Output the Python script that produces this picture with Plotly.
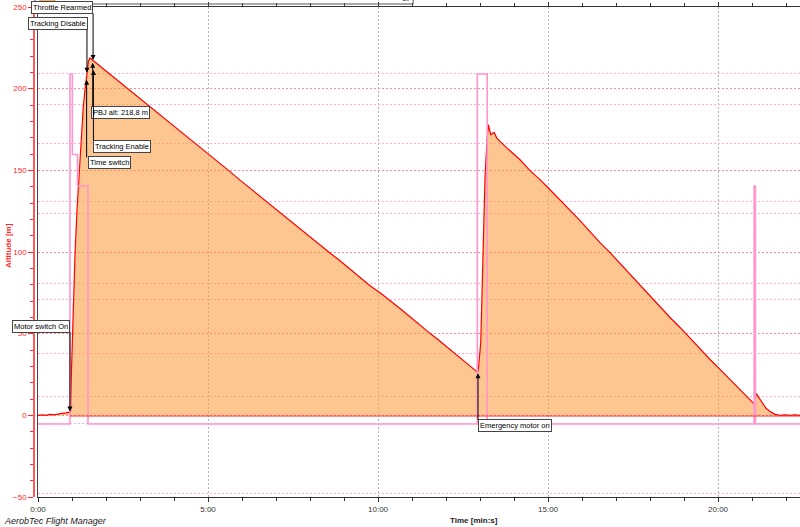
import plotly.graph_objects as go

# altitude log: time [min], altitude [m]
alt_time = [0.000, 0.118, 0.235, 0.353, 0.471, 0.588, 0.706, 0.824, 0.912, 0.956,
            0.985, 1.015, 1.044, 1.088, 1.147, 1.206, 1.256, 1.332, 1.382, 1.450, 1.485, 1.529,
            1.618, 1.706, 1.824, 2.118, 2.412, 2.706, 3.000, 3.294, 3.588, 3.882, 4.176, 4.471,
            4.765, 5.059, 5.353, 5.647, 5.941, 6.235, 6.529, 6.824, 7.118, 7.412, 7.706, 8.000,
            8.294, 8.588, 8.882, 9.176, 9.471, 9.765, 10.059, 10.353, 10.647, 10.941, 11.235,
            11.529, 11.824, 12.118, 12.412, 12.706, 12.932,
            12.956, 13.021, 13.097, 13.147, 13.206, 13.244, 13.315, 13.362, 13.412, 13.491, 13.588,
            13.882, 14.176, 14.471, 14.765, 15.059, 15.353, 15.647, 15.941, 16.235, 16.529,
            16.824, 17.118, 17.412, 17.706, 18.000, 18.294, 18.588, 18.882, 19.176, 19.471,
            19.765, 20.059, 20.353, 20.647, 20.882, 21.029, 21.074, 21.118, 21.176, 21.294,
            21.412, 21.529, 21.676, 21.824, 21.971, 22.118, 22.265, 22.412]
alt_m = [0.0, 0.3, 0.0, 0.6, 0.3, 0.9, 1.2, 1.5, 1.8, 2.1,
         28.0, 52.6, 70.9, 98.4, 125.9, 147.3, 168.7, 188.9, 199.3, 213.3, 217.0, 218.8,
         217.3, 215.6, 213.4, 208.6, 203.8, 198.8, 194.0, 189.0, 184.2, 179.0, 174.0, 169.0,
         164.2, 159.2, 154.0, 149.2, 144.0, 139.0, 134.2, 129.0, 124.2, 119.0, 114.0, 109.2,
         104.0, 99.4, 94.6, 89.6, 84.2, 79.4, 75.0, 70.4, 65.4, 60.4, 55.2,
         50.2, 45.4, 40.4, 35.4, 30.6, 26.3,
         29.3, 44.6, 105.7, 146.1, 168.7, 177.9, 171.8, 172.4, 173.2, 169.9, 167.7,
         162.0, 156.5, 149.8, 144.3, 138.1, 132.0, 125.9, 119.2, 112.5, 105.7,
         99.6, 92.9, 86.2, 80.1, 73.3, 66.6, 59.9, 53.8, 47.1, 40.3,
         34.2, 28.1, 22.0, 15.9, 11.0, 7.9, 6.7, 13.4, 11.6, 7.9,
         4.3, 2.4, 0.6, 0.0, 0.3, 0.0, 0.3, 0.0]

# throttle input [%]
throttle_time = [0, 0.94, 1.01, 1.16, 1.47, 12.92, 13.21, 21.06, 21.10, 22.41]
throttle_pct = [0, 100, 77, 68, 0, 100, 0, 68, 0, 0]

# power sensor channel (flat)
pws_time = [0.94, 22.41]
pws_current = [0, 0]

x_tickvals = [0, 5, 10, 15, 20]
x_ticktext = ["0:00", "5:00", "10:00", "15:00", "20:00"]

legend_names = ["Altitude", "Throttle In", "PWS Current", "PWS Power", "PWS Energy"]

# flight events: label, time [min], altitude at arrow tip [m]
event_labels = ["Throttle Rearmed", "Tracking Disable", "PBJ alt: 218,8 m", "Tracking Enable",
                "Time switch", "Motor switch On", "Emergency motor on"]
event_time = [1.62, 1.44, 1.61, 1.63, 1.43, 0.94, 12.94]
event_alt = [217.5, 209.7, 215.8, 211.5, 205.4, 2.4, 25.7]

RED = "rgb(255,40,40)"
PINK = "rgb(255,150,205)"
FONT = "Liberation Sans"

fig = go.Figure()

fig.add_trace(go.Scatter(
    x=alt_time, y=alt_m, mode="lines", name="Altitude",
    line=dict(color="rgb(255,0,0)", width=1.2),
    fill="tozeroy", fillcolor="rgba(252,158,68,0.6)"
))
fig.add_trace(go.Scatter(
    x=throttle_time, y=throttle_pct, mode="lines", name="Throttle In",
    line=dict(color=PINK, width=1.6, shape="hv"), yaxis="y2"
))
fig.add_trace(go.Scatter(
    x=pws_time, y=pws_current, mode="lines", name="PWS Current",
    line=dict(color=RED, width=1.2), yaxis="y3"
))

# box placement for each event: (box time, box altitude, anchor, arrow tail altitude)
box_pos = [
    (1.62, 249.8, "right", 247.0),
    (1.47, 240.0, "right", 237.0),
    (1.55, 185.5, "left", 188.0),
    (1.62, 164.4, "left", 167.0),
    (1.46, 154.6, "left", 157.0),
    (0.94, 54.4, "right", 52.0),
    (12.94, -6.4, "left", -3.7),
]

annotations = []
for label, t, a, (bt, ba, anc, tail) in zip(event_labels, event_time, event_alt, box_pos):
    annotations.append(dict(
        x=t, y=a, ax=t, ay=tail, xref="x", yref="y", axref="x", ayref="y",
        text="", showarrow=True, arrowhead=2, arrowsize=1, arrowwidth=1,
        arrowcolor="black"
    ))
    annotations.append(dict(
        x=bt, y=ba, xref="x", yref="y", text=label, showarrow=False,
        xanchor=anc, yanchor="middle", bgcolor="white", bordercolor="#444",
        borderwidth=1, borderpad=1, font=dict(family=FONT, size=7.5, color="black")
    ))

# axis titles and footer
annotations.append(dict(
    x=-0.034, y=0.514, xref="paper", yref="paper", xanchor="center", yanchor="middle",
    text="<b>Altitude [m]</b>", textangle=-90, showarrow=False,
    font=dict(family=FONT, size=8, color=RED)
))
annotations.append(dict(
    x=0.574, y=-0.047, xref="paper", yref="paper", xanchor="center", yanchor="middle",
    text="<b>Time [min:s]</b>", showarrow=False,
    font=dict(family=FONT, size=8, color="#222")
))
annotations.append(dict(
    x=-0.0418, y=-0.049, xref="paper", yref="paper", xanchor="left", yanchor="middle",
    text="<i>AerobTec Flight Manager</i>", showarrow=False,
    font=dict(family=FONT, size=9, color="#222")
))

# legend strip, mostly cut off above the page
legend_x = [0.0339, 0.1371, 0.2337, 0.3303, 0.4295]
for name, lx in zip(legend_names, legend_x):
    annotations.append(dict(
        x=lx, y=1, xref="paper", yref="paper", xanchor="left", yanchor="bottom",
        yshift=4, text=name, showarrow=False,
        font=dict(family=FONT, size=8, color="#333")
    ))

shapes = [
    dict(type="rect", xref="paper", yref="paper", x0=0.0013, x1=0.495, y0=1.0061, y1=1.06,
         line=dict(color="#555", width=1), fillcolor="rgba(255,255,255,0)"),
    dict(type="rect", xref="paper", yref="paper", x0=0.0078, x1=0.0274, y0=1.0122, y1=1.06,
         line=dict(color="rgb(240,150,70)", width=1), fillcolor="rgb(253,197,143)"),
]

fig.update_layout(
    width=800, height=527,
    margin=dict(l=34, r=0, t=7, b=30),
    paper_bgcolor="white", plot_bgcolor="white",
    showlegend=False,
    font=dict(family=FONT, size=8, color="#333"),
    xaxis=dict(
        domain=[4 / 766, 1], range=[0, 22.41],
        tickvals=x_tickvals, ticktext=x_ticktext,
        ticks="outside", ticklen=4, tickcolor="#333",
        minor=dict(dtick=1, ticks="outside", ticklen=3, tickcolor="#333", showgrid=False),
        showline=True, linecolor="#333", linewidth=1, mirror="ticks",
        showgrid=True, gridcolor="#b4b4b4", griddash="2px,2px", zeroline=False,
        tickfont=dict(size=8, color="#333")
    ),
    yaxis=dict(
        anchor="free", position=0, range=[-50, 250], dtick=50,
        ticks="outside", ticklen=5, tickcolor=RED,
        minor=dict(dtick=10, ticks="outside", ticklen=3, tickcolor=RED, showgrid=False),
        showline=True, linecolor="rgb(255,90,90)", linewidth=1.5,
        showgrid=True, gridcolor="rgb(255,140,140)", griddash="2px,2px", zeroline=False,
        tickfont=dict(size=8, color=RED)
    ),
    yaxis2=dict(
        overlaying="y", anchor="x", side="left", range=[-20.86, 119.14], dtick=20,
        showticklabels=False, ticks="", showline=True, linecolor="#444", linewidth=1,
        showgrid=True, gridcolor="rgb(255,175,215)", griddash="2px,2px", zeroline=False
    ),
    yaxis3=dict(
        overlaying="y", anchor="x", side="left", range=[-0.835, 4.216], tick0=0.206, dtick=1,
        showticklabels=False, ticks="", showline=False,
        showgrid=True, gridcolor="rgb(255,175,215)", griddash="2px,2px", zeroline=False
    ),
    annotations=annotations,
    shapes=shapes,
)

fig.write_html("out.html", config={"displayModeBar": False},
               post_script="document.body.style.margin='0px';")
